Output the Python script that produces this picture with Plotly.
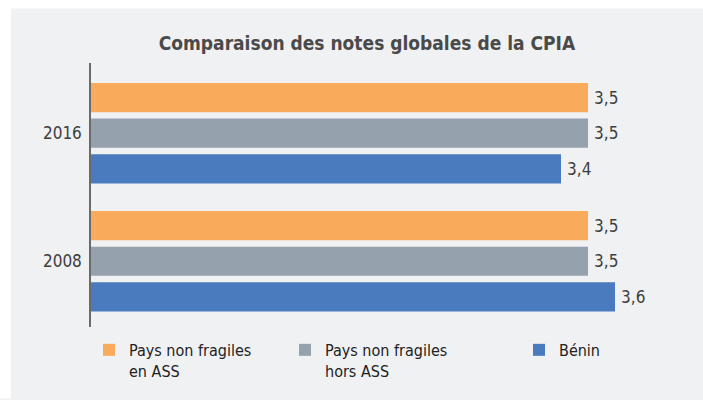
import plotly.graph_objects as go

# ---- data ----
categories = ["2008", "2016"]
series_names = ["Pays non fragiles<br>en ASS", "Pays non fragiles<br>hors ASS", "Bénin"]
values_orange = [3.5, 3.5]   # 2008, 2016
values_grey = [3.5, 3.5]
values_blue = [3.6, 3.4]
colors = ["#F9AA5B", "#96A1AE", "#4A7BBF"]

W, H = 703, 400
L, R, T, B = 91, 13, 63, 70
plot_w = W - L - R
plot_h = H - T - B

FONT = "DejaVu Sans Condensed, Roboto, sans-serif"
TXT = "#3d3d3d"
BG = "#F0F1F3"

def fmt(v):
    return f"{v:.1f}".replace(".", ",")

fig = go.Figure()
# Plotly draws horizontal grouped bars bottom-to-top in trace order
series = [
    (series_names[2], values_blue, colors[2], "legend3"),
    (series_names[1], values_grey, colors[1], "legend2"),
    (series_names[0], values_orange, colors[0], "legend"),
]
for name, vals, col, lg in series:
    fig.add_trace(go.Bar(
        y=categories, x=vals, name=name, orientation="h",
        marker=dict(color=col, line=dict(width=0)),
        text=["\u2009" + fmt(v) for v in vals], textposition="outside",
        textfont=dict(family=FONT, size=17, color=TXT),
        cliponaxis=False, legend=lg, hoverinfo="skip",
    ))

# x range: bars scaled so 3.4 -> px 561, 3.6 -> px 615 (270 px per unit)
ppu = 270.0
xmin = 3.4 - (561 - L) / ppu
xmax = xmin + plot_w / ppu

# y range: category pitch 129 px, 2016 centered at y=134
ppc = 129.5
ytop = 1 + (134 - T) / ppc
ybot = ytop - plot_h / ppc

def lx(px):
    return (px - L) / plot_w

def ly(py):
    return (H - B - py) / plot_h

leg_common = dict(
    orientation="v", bgcolor="rgba(0,0,0,0)", xanchor="left", yanchor="top",
    font=dict(family=FONT, size=16, color="#222222"), valign="top",
    itemwidth=30, tracegroupgap=0,
)

fig.update_layout(
    width=W, height=H,
    margin=dict(l=L, r=R, t=T, b=B),
    paper_bgcolor=BG, plot_bgcolor=BG,
    barmode="group", bargap=0.165, bargroupgap=0.18,
    title=dict(
        text="<b>Comparaison des notes globales de la CPIA</b>",
        x=367 / W, xanchor="center", y=1 - 43 / H, yanchor="middle",
        font=dict(family=FONT, size=19, color="#4a4a4a"),
    ),
    xaxis=dict(range=[xmin, xmax], visible=False, showgrid=False, zeroline=False),
    yaxis=dict(
        range=[ybot, ytop], type="category", categoryorder="array",
        categoryarray=categories, showgrid=False, zeroline=False,
        showline=True, linecolor="#6b6b6b", linewidth=1.5,
        ticks="", ticklabelstandoff=4,
        tickfont=dict(family=FONT, size=17, color=TXT),
    ),
    legend=dict(x=lx(89), y=ly(336), **leg_common),
    legend2=dict(x=lx(285), y=ly(336), **leg_common),
    legend3=dict(x=lx(519), y=ly(336), **leg_common),
    showlegend=True,
)

# white frame strips around the grey panel
fig.add_shape(type="rect", xref="paper", yref="paper",
              x0=lx(-2), x1=lx(11), y0=ly(H + 2), y1=ly(-2),
              fillcolor="white", line=dict(width=0), layer="below")
fig.add_shape(type="rect", xref="paper", yref="paper",
              x0=lx(-2), x1=lx(W + 2), y0=ly(8), y1=ly(-2),
              fillcolor="white", line=dict(width=0), layer="below")

fig.write_html(
    "out.html",
    config={"displayModeBar": False},
    post_script=(
        "document.body.style.margin='0';"
        "document.body.style.overflow='hidden';"
        "document.documentElement.style.overflow='hidden';"
        "document.body.style.background='" + BG + "';"
        "document.documentElement.style.background='" + BG + "';"
    ),
)
